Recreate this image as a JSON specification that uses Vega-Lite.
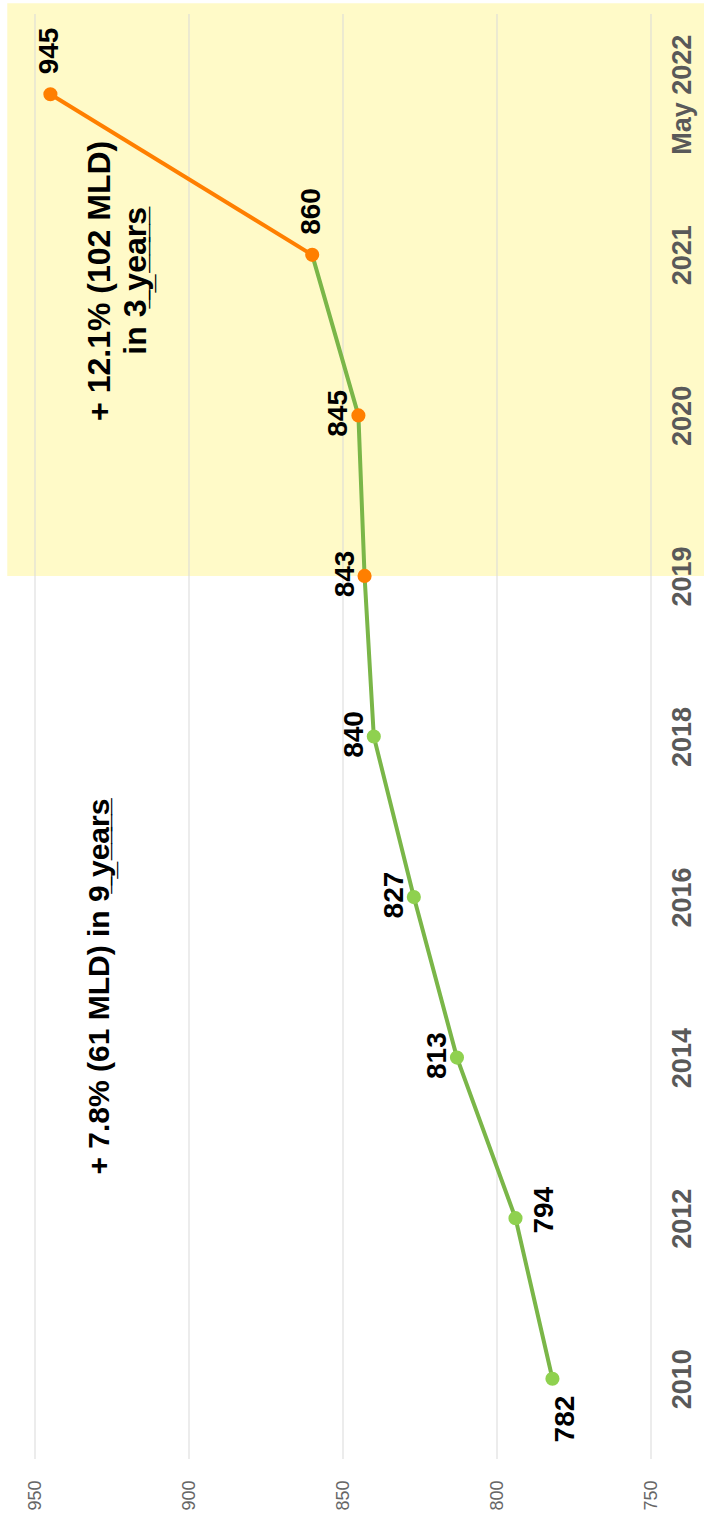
{
  "$schema": "https://vega.github.io/schema/vega-lite/v6.json",
  "width": 616,
  "height": 1445,
  "autosize": {"type": "none"},
  "padding": {"left": 35, "top": 14, "right": 53, "bottom": 60},
  "background": "white",
  "config": {"view": {"stroke": null}, "font": "Liberation Sans"},
  "datasets": {
    "wd": [
      {"year": "2010", "mld": 782, "phase": "base"},
      {"year": "2012", "mld": 794, "phase": "base"},
      {"year": "2014", "mld": 813, "phase": "base"},
      {"year": "2016", "mld": 827, "phase": "base"},
      {"year": "2018", "mld": 840, "phase": "base"},
      {"year": "2019", "mld": 843, "phase": "recent"},
      {"year": "2020", "mld": 845, "phase": "recent"},
      {"year": "2021", "mld": 860, "phase": "recent"},
      {"year": "May 2022", "mld": 945, "phase": "recent"}
    ],
    "band": [
      {"from": "May 2022", "to": "2019", "lo": 959, "hi": 720}
    ],
    "gridvals": [
      {"mld": 750}, {"mld": 800}, {"mld": 850}, {"mld": 900}, {"mld": 950}
    ],
    "notes": [
      {"note": "+ 7.8% (61 MLD) in 9\u0332 \u0332y\u0332e\u0332a\u0332r\u0332s\u0332", "year": "2014", "mld": 929}
    ],
    "notes2": [
      {"note": ["+ 12.1% (102 MLD)", "in 3\u0332 \u0332y\u0332e\u0332a\u0332r\u0332s\u0332"], "year": "2021", "mld": 929}
    ]
  },
  "layer": [
    {
      "data": {"name": "band"},
      "mark": {"type": "rect", "color": "#fffac8", "yOffset": -91},
      "encoding": {
        "x": {"field": "lo", "type": "quantitative", "title": null,
          "scale": {"domain": [750, 950], "reverse": true, "nice": false, "zero": false},
          "axis": {
            "orient": "bottom",
            "values": [750, 800, 850, 900, 950],
            "grid": false,
            "domain": false,
            "ticks": false,
            "tickSize": 0,
            "labelAngle": 270,
            "labelAlign": "right",
            "labelBaseline": "middle",
            "labelPadding": 21,
            "labelFont": "Liberation Sans",
            "labelFontSize": 18,
            "labelColor": "#666666",
            "labelFlush": false,
            "labelOverlap": false
          }
        },
        "x2": {"field": "hi"},
        "y": {"field": "from", "type": "ordinal", "title": null,
          "scale": {"type": "point", "padding": 0.5, "domain": ["May 2022", "2021", "2020", "2019", "2018", "2016", "2014", "2012", "2010"]},
          "axis": {
            "orient": "right",
            "grid": false,
            "domain": false,
            "ticks": false,
            "tickSize": 0,
            "labelAngle": 270,
            "labelAlign": "center",
            "labelBaseline": "top",
            "labelPadding": 18,
            "labelFont": "Liberation Sans",
            "labelFontSize": 27,
            "labelFontWeight": "bold",
            "labelColor": "#595959",
            "labelOverlap": false
          }
        },
        "y2": {"field": "to"}
      }
    },
    {
      "data": {"name": "gridvals"},
      "mark": {"type": "rule", "color": "#d9d9d9", "strokeWidth": 1},
      "encoding": {
        "x": {"field": "mld", "type": "quantitative"}
      }
    },
    {
      "data": {"name": "wd"},
      "transform": [{"filter": "datum.year != 'May 2022'"}],
      "mark": {"type": "line", "color": "#7ab648", "strokeWidth": 4},
      "encoding": {
        "x": {"field": "mld", "type": "quantitative"},
        "y": {"field": "year", "type": "ordinal"}
      }
    },
    {
      "data": {"name": "wd"},
      "transform": [{"filter": {"field": "year", "oneOf": ["2021", "May 2022"]}}],
      "mark": {"type": "line", "color": "#ff7f00", "strokeWidth": 4},
      "encoding": {
        "x": {"field": "mld", "type": "quantitative"},
        "y": {"field": "year", "type": "ordinal"}
      }
    },
    {
      "data": {"name": "wd"},
      "mark": {"type": "circle", "size": 200, "opacity": 1},
      "encoding": {
        "x": {"field": "mld", "type": "quantitative"},
        "y": {"field": "year", "type": "ordinal"},
        "color": {"field": "phase", "type": "nominal", "legend": null, "scale": {"domain": ["base", "recent"], "range": ["#8fd14f", "#ff7f00"]}}
      }
    },
    {
      "data": {"name": "wd"},
      "transform": [{"filter": {"field": "year", "oneOf": ["2021", "May 2022"]}}],
      "mark": {"type": "text", "angle": 270, "align": "left", "baseline": "alphabetic", "dx": 20, "dy": 8, "fontSize": 28, "fontWeight": "bold", "color": "#000000", "font": "Liberation Sans"},
      "encoding": {
        "x": {"field": "mld", "type": "quantitative"},
        "y": {"field": "year", "type": "ordinal"},
        "text": {"field": "mld", "type": "quantitative"}
      }
    },
    {
      "data": {"name": "wd"},
      "transform": [{"filter": {"field": "year", "oneOf": ["2014", "2016", "2018", "2019", "2020"]}}],
      "mark": {"type": "text", "angle": 270, "align": "center", "baseline": "alphabetic", "dx": 2, "dy": -11, "fontSize": 28, "fontWeight": "bold", "color": "#000000", "font": "Liberation Sans"},
      "encoding": {
        "x": {"field": "mld", "type": "quantitative"},
        "y": {"field": "year", "type": "ordinal"},
        "text": {"field": "mld", "type": "quantitative"}
      }
    },
    {
      "data": {"name": "wd"},
      "transform": [{"filter": "datum.year == '2012'"}],
      "mark": {"type": "text", "angle": 270, "align": "center", "baseline": "alphabetic", "dx": 8, "dy": 38, "fontSize": 28, "fontWeight": "bold", "color": "#000000", "font": "Liberation Sans"},
      "encoding": {
        "x": {"field": "mld", "type": "quantitative"},
        "y": {"field": "year", "type": "ordinal"},
        "text": {"field": "mld", "type": "quantitative"}
      }
    },
    {
      "data": {"name": "wd"},
      "transform": [{"filter": "datum.year == '2010'"}],
      "mark": {"type": "text", "angle": 270, "align": "right", "baseline": "alphabetic", "dx": -17, "dy": 22, "fontSize": 28, "fontWeight": "bold", "color": "#000000", "font": "Liberation Sans"},
      "encoding": {
        "x": {"field": "mld", "type": "quantitative"},
        "y": {"field": "year", "type": "ordinal"},
        "text": {"field": "mld", "type": "quantitative"}
      }
    },
    {
      "data": {"name": "notes"},
      "mark": {"type": "text", "angle": 270, "align": "center", "baseline": "middle", "dx": 71, "fontSize": 30, "fontWeight": "bold", "color": "#000000", "font": "Liberation Sans"},
      "encoding": {
        "x": {"field": "mld", "type": "quantitative"},
        "y": {"field": "year", "type": "ordinal"},
        "text": {"field": "note", "type": "nominal"}
      }
    },
    {
      "data": {"name": "notes2"},
      "mark": {"type": "text", "angle": 270, "align": "center", "baseline": "middle", "dx": -26, "lineHeight": 36, "fontSize": 32, "fontWeight": "bold", "color": "#000000", "font": "Liberation Sans"},
      "encoding": {
        "x": {"field": "mld", "type": "quantitative"},
        "y": {"field": "year", "type": "ordinal"},
        "text": {"field": "note", "type": "nominal"}
      }
    }
  ]
}
